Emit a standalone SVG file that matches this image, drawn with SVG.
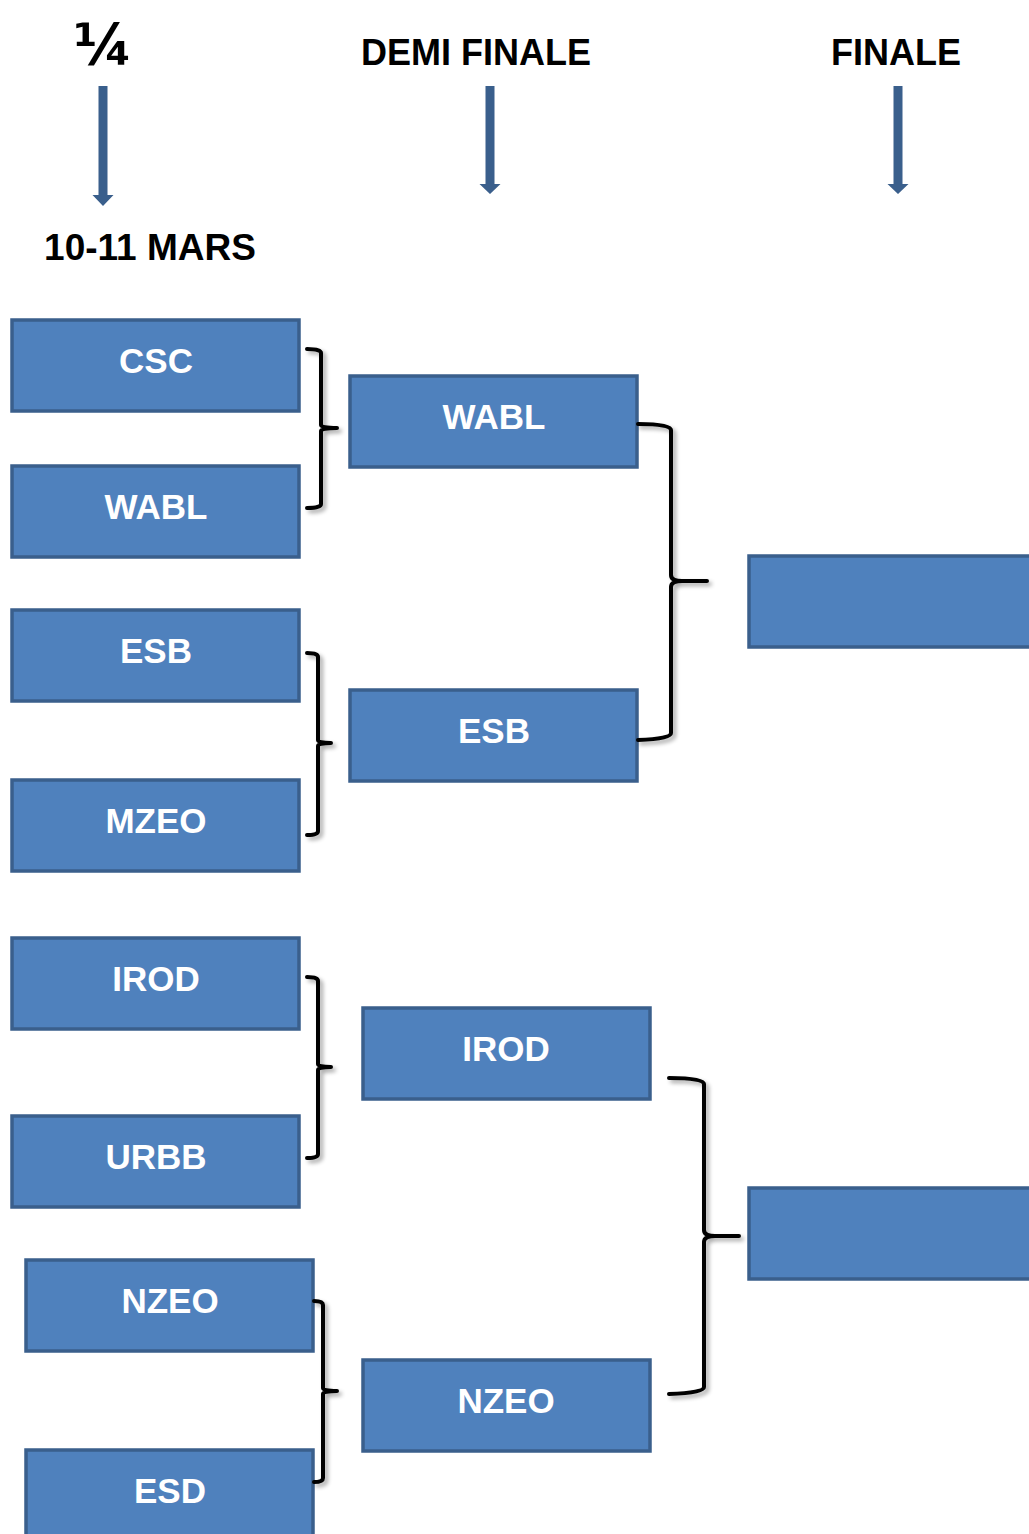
<svg xmlns="http://www.w3.org/2000/svg" width="1029" height="1534" viewBox="0 0 1029 1534">
<style>
.box{fill:#4F81BD;stroke:#3A5F8C;stroke-width:3.5}
.lbl{fill:#ffffff;font-family:"Liberation Sans","Open Sans",sans-serif;font-weight:bold;font-size:35px;text-anchor:middle}
.hdr{fill:#000000;font-family:"Liberation Sans","Open Sans",sans-serif;font-weight:bold;font-size:36px;text-anchor:middle}
.br{fill:none;stroke:#000;stroke-width:4;stroke-linejoin:round;stroke-linecap:round}
.arr{fill:#3A5F8C}
</style>
<defs>
<filter id="sh" x="-50%" y="-10%" width="200%" height="120%">
<feGaussianBlur in="SourceAlpha" stdDeviation="2"/>
<feOffset dx="3" dy="3" result="b"/>
<feComponentTransfer><feFuncA type="linear" slope="0.35"/></feComponentTransfer>
<feMerge><feMergeNode/><feMergeNode in="SourceGraphic"/></feMerge>
</filter>
</defs>
<rect width="1029" height="1534" fill="#ffffff"/>
<g id="headers">
<text class="hdr" x="103" y="65" style="font-size:57px;font-family:'DejaVu Sans','Liberation Sans',sans-serif">¼</text>
<text class="hdr" x="476" y="65">DEMI FINALE</text>
<text class="hdr" x="896" y="65">FINALE</text>
<text class="hdr" x="150" y="260" style="font-size:37px">10-11 MARS</text>
<path class="arr" d="M98.5,86 h9 v109 h6 l-10.5,11 l-10.5,-11 h6 z"/>
<path class="arr" d="M485.5,86 h9 v98 h6 l-10.5,10 l-10.5,-10 h6 z"/>
<path class="arr" d="M893.5,86 h9 v98 h6 l-10.5,10 l-10.5,-10 h6 z"/>
</g>
<g id="quarter-csc"><rect class="box" x="12" y="320" width="287" height="91"/><text class="lbl" x="156" y="373">CSC</text></g>
<g id="quarter-wabl"><rect class="box" x="12" y="466" width="287" height="91"/><text class="lbl" x="156" y="519">WABL</text></g>
<g id="quarter-esb"><rect class="box" x="12" y="610" width="287" height="91"/><text class="lbl" x="156" y="663">ESB</text></g>
<g id="quarter-mzeo"><rect class="box" x="12" y="780" width="287" height="91"/><text class="lbl" x="156" y="833">MZEO</text></g>
<g id="quarter-irod"><rect class="box" x="12" y="938" width="287" height="91"/><text class="lbl" x="156" y="991">IROD</text></g>
<g id="quarter-urbb"><rect class="box" x="12" y="1116" width="287" height="91"/><text class="lbl" x="156" y="1169">URBB</text></g>
<g id="quarter-nzeo"><rect class="box" x="26" y="1260" width="287" height="91"/><text class="lbl" x="170" y="1313">NZEO</text></g>
<g id="quarter-esd"><rect class="box" x="26" y="1450" width="287" height="91"/><text class="lbl" x="170" y="1503">ESD</text></g>
<g id="semi-wabl"><rect class="box" x="350" y="376" width="287" height="91"/><text class="lbl" x="494" y="429">WABL</text></g>
<g id="semi-esb"><rect class="box" x="350" y="690" width="287" height="91"/><text class="lbl" x="494" y="743">ESB</text></g>
<g id="semi-irod"><rect class="box" x="363" y="1008" width="287" height="91"/><text class="lbl" x="506" y="1061">IROD</text></g>
<g id="semi-nzeo"><rect class="box" x="363" y="1360" width="287" height="91"/><text class="lbl" x="506" y="1413">NZEO</text></g>
<g id="final-top"><rect class="box" x="749" y="556" width="290" height="91"/></g>
<g id="final-bottom"><rect class="box" x="749" y="1188" width="290" height="91"/></g>
<g id="connectors" filter="url(#sh)">
<path class="br" d="M307,349 Q321,349 321,353 V425 Q321,428 337,428 Q321,428 321,431 V504 Q321,508 307,508"/>
<path class="br" d="M307,653 Q318,653 318,657 V740 Q318,743 331,743 Q318,743 318,746 V831 Q318,835 307,835"/>
<path class="br" d="M307,977 Q318,977 318,981 V1064 Q318,1067 331,1067 Q318,1067 318,1070 V1154 Q318,1158 307,1158"/>
<path class="br" d="M314,1301 Q323,1301 323,1305 V1388 Q323,1391 337,1391 Q323,1391 323,1394 V1478 Q323,1482 314,1482"/>
<path class="br" d="M638,424 Q671,424 671,430 V575 Q671,581 682,581 H707 H682 Q671,581 671,587 V733 Q671,739 638,740"/>
<path class="br" d="M669,1078 Q704,1078 704,1084 V1230 Q704,1236 715,1236 H739 H715 Q704,1236 704,1242 V1387 Q704,1393 669,1394"/>
</g>
</svg>
